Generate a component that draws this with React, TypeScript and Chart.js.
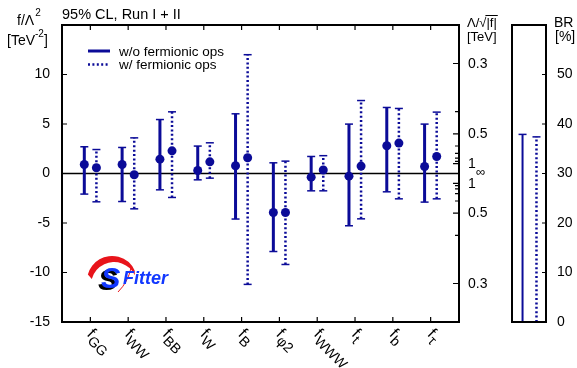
import { useEffect, useRef } from 'react';
import { Chart, registerables } from 'chart.js';
Chart.register(...registerables);

// ---------- data ----------
const categories = ['GG', 'WW', 'BB', 'W', 'B', 'φ2', 'WWW', 't', 'b', 'τ'];
const solidCentral = [0.91, 0.91, 1.45, 0.3, 0.78, -3.94, -0.37, -0.27, 2.8, 0.71];
const solidLow = [-2.08, -2.83, -1.65, -0.64, -4.6, -7.88, -1.75, -5.28, -1.85, -2.89];
const solidHigh = [2.7, 2.63, 5.45, 2.77, 6.03, 1.08, 1.72, 4.99, 6.67, 4.99];
const dottedCentral = [0.58, -0.13, 2.29, 1.18, 1.59, -3.94, 0.35, 0.75, 3.07, 1.72];
const dottedLow = [-2.86, -3.57, -2.42, -0.47, -11.2, -9.19, -1.75, -4.58, -2.56, -2.56];
const dottedHigh = [2.42, 3.6, 6.23, 3.1, 12.0, 1.25, 1.8, 7.37, 6.57, 6.2];
const brSolid = 37.9;
const brDotted = 37.4;

const leftTicks = [-15, -10, -5, 0, 5, 10, 15];
const rightTeVMajor = [0.3, 0.5, 1];
const rightTeVMinor = [0.4, 0.6, 0.7, 0.8, 0.9];
const brTicks = [0, 10, 20, 30, 40, 50];
const legendLabels = ['w/o fermionic ops', 'w/ fermionic ops'];

const BLUE = '#0b0b98';
const FONT = "'Liberation Sans', Arial, Helvetica, sans-serif";
const OFFSET = 0.16;
const DOTS = [2, 2.4];

function barPoints(lo: number[], hi: number[], shift: number) {
  const pts: { x: number; y: number | null }[] = [];
  lo.forEach((l, i) => {
    pts.push({ x: i + 1 + shift, y: l });
    pts.push({ x: i + 1 + shift, y: hi[i] });
    pts.push({ x: i + 1 + shift, y: null });
  });
  return pts;
}
function centerPoints(c: number[], shift: number) {
  return c.map((v, i) => ({ x: i + 1 + shift, y: v }));
}

const mainPlugin = {
  id: 'mainDeco',
  beforeDatasetsDraw(chart: any) {
    const ctx = chart.ctx;
    const { left, right } = chart.chartArea;
    const y0 = chart.scales.y.getPixelForValue(0);
    ctx.save();
    ctx.strokeStyle = '#000';
    ctx.lineWidth = 1.6;
    ctx.beginPath();
    ctx.moveTo(left, y0);
    ctx.lineTo(right, y0);
    ctx.stroke();
    ctx.restore();
  },
  afterDraw(chart: any) {
    const ctx = chart.ctx;
    const { left, right, top, bottom } = chart.chartArea;
    const xs = chart.scales.x;
    const ys = chart.scales.y;
    ctx.save();
    ctx.strokeStyle = '#000';
    ctx.fillStyle = '#000';
    ctx.lineWidth = 1.2;
    // inward ticks
    ctx.beginPath();
    leftTicks.forEach((v) => {
      const py = ys.getPixelForValue(v);
      ctx.moveTo(left, py);
      ctx.lineTo(left + 5, py);
    });
    categories.forEach((_, i) => {
      const px = xs.getPixelForValue(i + 1);
      ctx.moveTo(px, top);
      ctx.lineTo(px, top + 5);
      ctx.moveTo(px, bottom);
      ctx.lineTo(px, bottom - 5);
    });
    const rt = (lam: number, len: number) => {
      const f = 1 / (lam * lam);
      [1, -1].forEach((s) => {
        const py = ys.getPixelForValue(s * f);
        ctx.moveTo(right, py);
        ctx.lineTo(right - len, py);
      });
    };
    rightTeVMajor.forEach((l) => rt(l, 6));
    rightTeVMinor.forEach((l) => rt(l, 4));
    ctx.stroke();
    // frame
    ctx.lineWidth = 2;
    ctx.strokeRect(left, top, right - left, bottom - top);

    // right axis labels
    ctx.font = `14px ${FONT}`;
    ctx.textBaseline = 'middle';
    ctx.textAlign = 'left';
    rightTeVMajor.forEach((lam) => {
      const f = 1 / (lam * lam);
      [1, -1].forEach((s) => {
        ctx.fillText(String(lam), right + 9, ys.getPixelForValue(s * f) + 0.5);
      });
    });
    ctx.font = `13px ${FONT}`;
    ctx.fillText('∞', right + 17, ys.getPixelForValue(0) - 1);

    // x labels (rotated, with subscript)
    categories.forEach((sub, i) => {
      const px = xs.getPixelForValue(i + 1);
      ctx.save();
      ctx.translate(px - 4, bottom + 13);
      ctx.rotate(Math.PI / 4);
      ctx.textBaseline = 'alphabetic';
      ctx.font = `16px ${FONT}`;
      ctx.fillText('f', 0, 0);
      const w = ctx.measureText('f').width;
      ctx.font = `14px ${FONT}`;
      ctx.fillText(sub, w + 0.5, 4.5);
      ctx.restore();
    });

    // legend
    ctx.strokeStyle = BLUE;
    ctx.lineWidth = 3;
    ctx.beginPath();
    ctx.moveTo(88, 51);
    ctx.lineTo(110, 51);
    ctx.stroke();
    ctx.lineWidth = 2.5;
    ctx.setLineDash(DOTS);
    ctx.beginPath();
    ctx.moveTo(88, 64.5);
    ctx.lineTo(110, 64.5);
    ctx.stroke();
    ctx.setLineDash([]);
    ctx.fillStyle = '#000';
    ctx.font = `13.5px ${FONT}`;
    ctx.textBaseline = 'middle';
    ctx.fillText(legendLabels[0], 119, 52);
    ctx.fillText(legendLabels[1], 119, 65.5);

    // titles
    ctx.textBaseline = 'alphabetic';
    ctx.font = `14.5px ${FONT}`;
    ctx.fillText('95% CL, Run I + II', 62, 19);
    ctx.font = `14px ${FONT}`;
    ctx.fillText('f/Λ', 17, 25);
    let w = ctx.measureText('f/Λ').width;
    ctx.font = `10px ${FONT}`;
    ctx.fillText('2', 17 + w + 1, 16);
    ctx.font = `14px ${FONT}`;
    ctx.fillText('[TeV', 7, 45);
    w = ctx.measureText('[TeV').width;
    ctx.font = `10px ${FONT}`;
    ctx.fillText('-2', 7 + w, 37);
    const w2 = ctx.measureText('-2').width;
    ctx.font = `14px ${FONT}`;
    ctx.fillText(']', 7 + w + w2, 45);

    // right axis title
    ctx.font = `13px ${FONT}`;
    const a = 'Λ/√';
    ctx.fillText(a, 467, 27);
    const wa = ctx.measureText(a).width;
    ctx.fillText('|f|', 467 + wa, 27);
    const wf = ctx.measureText('|f|').width;
    ctx.lineWidth = 1;
    ctx.strokeStyle = '#000';
    ctx.beginPath();
    ctx.moveTo(467 + wa - 1, 15.5);
    ctx.lineTo(467 + wa + wf + 1, 15.5);
    ctx.stroke();
    ctx.fillText('[TeV]', 467, 41);

    // logo
    ctx.fillStyle = '#e8141b';
    ctx.beginPath();
    ctx.arc(112, 281, 25, (195 * Math.PI) / 180, (335 * Math.PI) / 180);
    ctx.arc(114, 285, 23, (335 * Math.PI) / 180, (195 * Math.PI) / 180, true);
    ctx.closePath();
    ctx.fill();
    ctx.strokeStyle = '#e8141b';
    ctx.lineWidth = 1;
    ctx.beginPath();
    ctx.moveTo(131, 268);
    ctx.quadraticCurveTo(128, 282, 118, 292);
    ctx.stroke();
    ctx.font = `italic bold 29px ${FONT}`;
    ctx.fillStyle = '#000';
    ctx.fillText('S', 98, 290);
    ctx.fillStyle = '#1238ff';
    ctx.fillText('S', 101, 288);
    ctx.font = `italic bold 18px ${FONT}`;
    ctx.fillText('Fitter', 123, 284);
    ctx.restore();
  },
};

const brPlugin = {
  id: 'brDeco',
  afterDraw(chart: any) {
    const ctx = chart.ctx;
    const { left, right, top, bottom } = chart.chartArea;
    const ys = chart.scales.y;
    ctx.save();
    ctx.strokeStyle = '#000';
    ctx.lineWidth = 1.2;
    ctx.beginPath();
    brTicks.forEach((v) => {
      const py = ys.getPixelForValue(v);
      ctx.moveTo(right, py);
      ctx.lineTo(right - 4, py);
    });
    ctx.stroke();
    ctx.lineWidth = 2;
    ctx.strokeRect(left, top, right - left, bottom - top);
    ctx.fillStyle = '#000';
    ctx.font = `14px ${FONT}`;
    ctx.textBaseline = 'alphabetic';
    ctx.fillText('BR', 49, 27);
    ctx.fillText('[%]', 50, 41);
    ctx.restore();
  },
};

export default function App() {
  const mainRef = useRef<HTMLCanvasElement>(null);
  const brRef = useRef<HTMLCanvasElement>(null);

  useEffect(() => {
    const main = new Chart(mainRef.current!, {
      type: 'line',
      data: {
        datasets: [
          {
            data: barPoints(solidLow, solidHigh, -OFFSET) as any,
            borderColor: BLUE,
            borderWidth: 3,
            spanGaps: false,
            pointStyle: 'line',
            pointRadius: 4,
            pointBorderWidth: 1.5,
            pointBorderColor: BLUE,
          },
          {
            data: barPoints(dottedLow, dottedHigh, OFFSET) as any,
            borderColor: BLUE,
            borderWidth: 2.5,
            borderDash: DOTS,
            spanGaps: false,
            pointStyle: 'line',
            pointRadius: 4,
            pointBorderWidth: 1.5,
            pointBorderColor: BLUE,
          },
          {
            data: centerPoints(solidCentral, -OFFSET),
            showLine: false,
            pointRadius: 4.5,
            pointBackgroundColor: BLUE,
            pointBorderWidth: 0,
          },
          {
            data: centerPoints(dottedCentral, OFFSET),
            showLine: false,
            pointRadius: 4.5,
            pointBackgroundColor: BLUE,
            pointBorderWidth: 0,
          },
        ],
      },
      options: {
        responsive: false,
        animation: false,
        events: [],
        layout: { padding: { left: 0, right: 46, top: 25, bottom: 46 } },
        plugins: { legend: { display: false }, tooltip: { enabled: false } },
        scales: {
          x: { type: 'linear', min: 0.25, max: 10.75, display: false },
          y: {
            type: 'linear',
            position: 'left',
            min: -15,
            max: 15,
            ticks: {
              stepSize: 5,
              padding: 12,
              color: '#000',
              font: { family: FONT, size: 14 },
              callback: (v: any) => (v === 15 ? '' : String(v)),
            },
            grid: { display: false, drawTicks: false },
            border: { display: false },
            afterFit: (s: any) => {
              s.width = 62;
            },
          },
        },
      },
      plugins: [mainPlugin],
    });

    const br = new Chart(brRef.current!, {
      type: 'line',
      data: {
        datasets: [
          {
            data: [
              { x: 0.31, y: 0 },
              { x: 0.31, y: brSolid },
            ],
            borderColor: BLUE,
            borderWidth: 2,
            pointStyle: 'line',
            pointRadius: [0, 4],
            pointBorderWidth: 1.5,
            pointBorderColor: BLUE,
          },
          {
            data: [
              { x: 0.72, y: 0 },
              { x: 0.72, y: brDotted },
            ],
            borderColor: BLUE,
            borderWidth: 2.5,
            borderDash: DOTS,
            pointStyle: 'line',
            pointRadius: [0, 4],
            pointBorderWidth: 1.5,
            pointBorderColor: BLUE,
          },
        ],
      },
      options: {
        responsive: false,
        animation: false,
        events: [],
        layout: { padding: { left: 7, right: 0, top: 25, bottom: 46 } },
        plugins: { legend: { display: false }, tooltip: { enabled: false } },
        scales: {
          x: { type: 'linear', min: 0, max: 1, display: false },
          y: {
            type: 'linear',
            position: 'right',
            min: 0,
            max: 60,
            ticks: {
              stepSize: 10,
              padding: 11,
              color: '#000',
              font: { family: FONT, size: 14 },
              callback: (v: any) => (v === 60 ? '' : String(v)),
            },
            grid: { display: false, drawTicks: false },
            border: { display: false },
            afterFit: (s: any) => {
              s.width = 31;
            },
          },
        },
      },
      plugins: [brPlugin],
    });

    return () => {
      main.destroy();
      br.destroy();
    };
  }, []);

  return (
    <div style={{ position: 'fixed', left: 0, top: 0, width: 577, height: 368, background: '#fff' }}>
      <canvas
        ref={mainRef}
        width={505}
        height={368}
        style={{ position: 'absolute', left: 0, top: 0, width: 505, height: 368 }}
      />
      <canvas
        ref={brRef}
        width={72}
        height={368}
        style={{ position: 'absolute', left: 505, top: 0, width: 72, height: 368 }}
      />
    </div>
  );
}
